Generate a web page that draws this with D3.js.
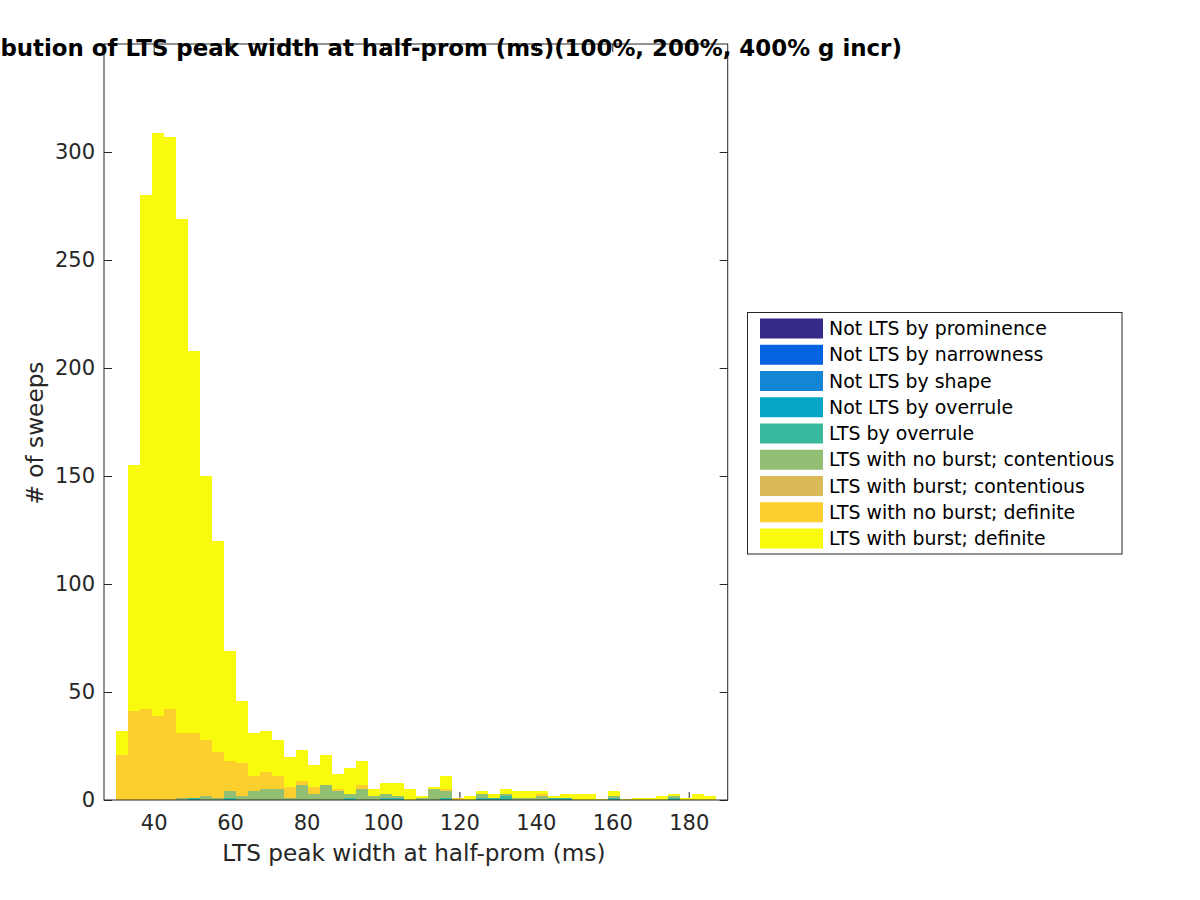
<!DOCTYPE html>
<html>
<head>
<meta charset="utf-8">
<script src="https://cdn.jsdelivr.net/npm/d3@7"></script>
<style>
  html, body { margin: 0; padding: 0; background: #fff; }
  svg { display: block; font-family: "DejaVu Sans", sans-serif; }
</style>
</head>
<body>
<svg id="chart" width="1200" height="900"></svg>
<script>
// ---------------- data ----------------
const titleText = "Distribution of LTS peak width at half-prom (ms)(100%, 200%, 400% g incr)";
const xLabel = "LTS peak width at half-prom (ms)";
const yLabel = "# of sweeps";

// histogram bins: 50 equal bins
const binStart = 30.13;
const binWidth = 3.138;
const binCount = 50;

const xTicks = [40, 60, 80, 100, 120, 140, 160, 180];
const yTicks = [0, 50, 100, 150, 200, 250, 300];

const seriesNames = [
  "Not LTS by prominence",
  "Not LTS by narrowness",
  "Not LTS by shape",
  "Not LTS by overrule",
  "LTS by overrule",
  "LTS with no burst; contentious",
  "LTS with burst; contentious",
  "LTS with no burst; definite",
  "LTS with burst; definite"
];
const seriesColors = ["#352A87", "#0363E1", "#1485D4", "#06A7C6", "#38B99E", "#92BF73", "#D9BA56", "#FCCE2E", "#F9FB0E"];

// counts per bin (stacked, bottom to top)
const notLtsProminence = [0,0,0,0,0,0,0,0,0,0, 0,0,0,0,0,0,0,0,0,0, 0,0,0,0,0,0,0,0,0,0, 0,0,0,0,0,0,0,0,0,0, 0,0,0,0,0,0,0,0,0,0];
const notLtsNarrowness = [0,0,0,0,0,0,0,0,0,0, 0,0,0,0,0,0,0,0,0,0, 0,0,0,0,0,0,0,0,0,0, 0,0,0,0,0,0,0,0,0,0, 0,0,0,0,0,0,0,0,0,0];
const notLtsShape      = [0,0,0,0,0,0,0,0,0,0, 0,0,0,0,0,0,0,0,0,0, 0,0,0,0,0,0,0,0,0,0, 0,0,0,0,0,0,0,0,0,0, 0,0,0,0,0,0,0,0,0,0];
const notLtsOverrule   = [0,0,0,0,0,0,0,0,0,0, 0,0,0,0,0,0,0,0,0,0, 0,0,0,0,0,0,0,0,0,0, 0,0,0,0,0,0,0,0,0,0, 0,0,0,0,0,0,0,0,0,0];
const ltsOverrule      = [0,0,0,0,0,0,1,0,0,1, 0,0,0,0,0,0,0,0,0,1, 0,0,1,1,0,0,0,1,0,0, 1,1,2,0,0,0,1,1,0,0, 0,1,0,0,0,0,1,0,0,0];
const ltsNoBurstCont   = [0,0,0,0,0,1,0,2,1,3, 2,4,5,5,1,7,3,7,4,2, 5,2,2,1,0,1,5,3,0,0, 2,0,1,1,1,2,0,0,0,0, 0,1,0,0,0,0,1,0,0,0];
const ltsBurstCont     = [0,0,0,0,0,0,0,0,0,0, 0,0,0,0,0,0,0,0,0,0, 0,0,0,0,0,0,0,0,0,0, 0,0,0,0,0,0,0,0,0,0, 0,0,0,0,0,0,0,0,0,0];
const ltsNoBurstDef    = [21,41,42,39,42,30,30,26,21,14, 15,7,8,6,5,2,3,0,1,0, 2,0,0,0,0,0,0,1,1,0, 0,0,0,0,0,1,0,0,0,0, 0,0,0,0,0,0,0,0,0,0];
const ltsBurstDef      = [11,114,238,270,265,238,177,122,98,51, 29,20,19,17,14,14,10,14,7,12, 11,3,5,6,5,1,1,6,0,2, 1,2,2,3,3,1,1,2,3,3, 0.5,2,0.5,1,1,2,1,1,3,2];

const seriesValues = [notLtsProminence, notLtsNarrowness, notLtsShape, notLtsOverrule,
  ltsOverrule, ltsNoBurstCont, ltsBurstCont, ltsNoBurstDef, ltsBurstDef];

// ---------------- layout ----------------
const svg = d3.select("#chart");
const axL = 104, axR = 727.7, axT = 44, axB = 800;
const textColor = "#262626";

const x = d3.scaleLinear().domain([27.0, 190.2]).range([axL, axR]);
const y = d3.scaleLinear().domain([0, 350]).range([axB, axT]);

// table for stacking
const table = d3.range(binCount).map(i => {
  const row = { x0: binStart + i * binWidth, x1: binStart + (i + 1) * binWidth };
  seriesNames.forEach((n, k) => { row[n] = seriesValues[k][i]; });
  return row;
});
const stacked = d3.stack().keys(seriesNames)(table);

// ticks (drawn beneath data, like MATLAB default layer)
const gx = svg.append("g").attr("transform", `translate(0,${axB})`)
  .call(d3.axisBottom(x).tickValues(xTicks).tickSize(-8).tickPadding(15).tickFormat(d3.format("d")));
const gxTop = svg.append("g").attr("transform", `translate(0,${axT})`)
  .call(d3.axisTop(x).tickValues(xTicks).tickSize(-8).tickFormat(""));
const gy = svg.append("g").attr("transform", `translate(${axL},0)`)
  .call(d3.axisLeft(y).tickValues(yTicks).tickSize(-8).tickPadding(9).tickFormat(d3.format("d")));
const gyR = svg.append("g").attr("transform", `translate(${axR},0)`)
  .call(d3.axisRight(y).tickValues(yTicks).tickSize(-8).tickFormat(""));

[gx, gxTop, gy, gyR].forEach(g => {
  g.select(".domain").remove();
  g.selectAll(".tick line").attr("stroke", textColor).attr("stroke-width", 1);
  g.selectAll(".tick text").attr("fill", textColor).style("font-size", "21px")
    .style("font-family", "DejaVu Sans, sans-serif");
});

// bars
const barsG = svg.append("g");
stacked.forEach((layer, k) => {
  barsG.append("g").attr("fill", seriesColors[k])
    .selectAll("rect")
    .data(layer.filter(d => d[1] - d[0] > 0))
    .join("rect")
    .attr("x", d => x(d.data.x0))
    .attr("width", d => x(d.data.x1) - x(d.data.x0))
    .attr("y", d => y(d[1]))
    .attr("height", d => y(d[0]) - y(d[1]))
    .attr("shape-rendering", "crispEdges");
});

// box
svg.append("rect")
  .attr("x", axL).attr("y", axT)
  .attr("width", axR - axL).attr("height", axB - axT)
  .attr("fill", "none").attr("stroke", textColor).attr("stroke-width", 1);

// axis labels
svg.append("text")
  .attr("x", (axL + axR) / 2 - 2).attr("y", 861)
  .attr("text-anchor", "middle").attr("fill", textColor)
  .style("font-size", "23.2px")
  .text(xLabel);

svg.append("text")
  .attr("transform", `translate(43,${(axT + axB) / 2 + 11}) rotate(-90)`)
  .attr("text-anchor", "middle").attr("fill", textColor)
  .style("font-size", "23.2px")
  .text(yLabel);

// title
svg.append("text")
  .attr("x", (axL + axR) / 2).attr("y", 56)
  .attr("text-anchor", "middle").attr("fill", "#000")
  .style("font-size", "22.9px").style("font-weight", "bold")
  .text(titleText);

// legend
const lg = svg.append("g");
lg.append("rect")
  .attr("x", 747.5).attr("y", 312.5).attr("width", 374.5).attr("height", 241.5)
  .attr("fill", "#fff").attr("stroke", textColor).attr("stroke-width", 1);
const rowStep = 26.25;
seriesNames.forEach((n, k) => {
  const cy = 328.5 + k * rowStep;
  lg.append("rect")
    .attr("x", 760).attr("y", cy - 10).attr("width", 63).attr("height", 20)
    .attr("fill", seriesColors[k]);
  lg.append("text")
    .attr("x", 829).attr("y", cy).attr("dy", "0.35em")
    .attr("fill", "#000").style("font-size", "18.9px")
    .text(n);
});
</script>
</body>
</html>
